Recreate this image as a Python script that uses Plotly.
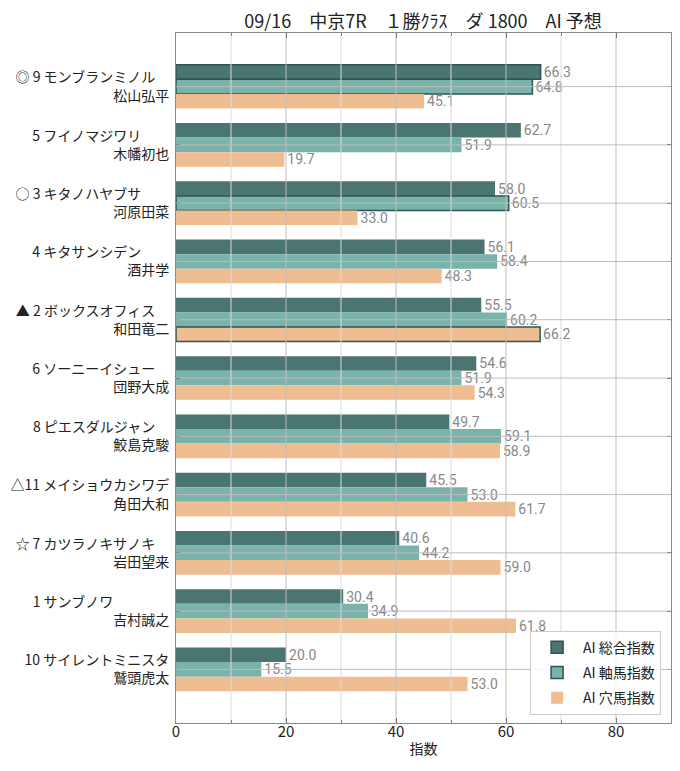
import plotly.graph_objects as go

marks = ["◎ 9", "5", "○ 3", "4", "▲ 2", "6", "8", "△11", "☆ 7", "1", "10"]
names = ["モンブランミノル", "フイノマジワリ", "キタノハヤブサ", "キタサンシデン", "ボックスオフィス",
         "ソーニーイシュー", "ピエスダルジャン", "メイショウカシワデ", "カツラノキサノキ", "サンブノワ",
         "サイレントミニスタ"]
jockeys = ["松山弘平", "木幡初也", "河原田菜", "酒井学", "和田竜二", "団野大成", "鮫島克駿",
           "角田大和", "岩田望来", "吉村誠之", "鷲頭虎太"]
total_idx = [66.3, 62.7, 58.0, 56.1, 55.5, 54.6, 49.7, 45.5, 40.6, 30.4, 20.0]
axis_idx = [64.8, 51.9, 60.5, 58.4, 60.2, 51.9, 59.1, 53.0, 44.2, 34.9, 15.5]
ana_idx = [45.1, 19.7, 33.0, 48.3, 66.2, 54.3, 58.9, 61.7, 59.0, 61.8, 53.0]
# bars drawn with a dark outline
total_hl = [True] + [False] * 10
axis_hl = [True, False, True] + [False] * 8
ana_hl = [False] * 4 + [True] + [False] * 6

series = [("AI 総合指数", total_idx, total_hl, "#4b7570"),
          ("AI 軸馬指数", axis_idx, axis_hl, "#7ab3ab"),
          ("AI 穴馬指数", ana_idx, ana_hl, "#eebd92")]

pos = list(range(len(names)))


def pad(n):
    # invisible full-width filler so horse names sit in a 9-character column
    k = 9 - len(n)
    if k <= 0:
        return ""
    return '<span style="color:rgba(0,0,0,0)">' + "口" * k + "</span>"


labels = [f"{m} {n}{pad(n)}<br>{j}" for m, n, j in zip(marks, names, jockeys)]
FONT = "Noto Sans CJK JP"

fig = go.Figure()
for i, (name, vals, hl, col) in enumerate(series):
    fig.add_trace(go.Bar(
        y=pos, x=vals, name=name, orientation="h", legendgroup=f"g{i}",
        marker=dict(color=col,
                    line=dict(color=["#2f5550" if h else col for h in hl],
                              width=[1.5 if h else 0 for h in hl])),
        text=[f"{v:.1f}" for v in vals], textposition="outside",
        textfont=dict(color="#888888", size=14, family="Roboto"),
        constraintext="none", cliponaxis=False,
    ))

shapes = []
for v in [10, 30, 50, 70]:
    shapes.append(dict(type="line", xref="x", yref="paper", x0=v, x1=v, y0=0, y1=1,
                       line=dict(color="#dcdcdc", width=1), layer="above"))
for v in [20, 40, 60, 80]:
    shapes.append(dict(type="line", xref="x", yref="paper", x0=v, x1=v, y0=0, y1=1,
                       line=dict(color="#bdbdbd", width=1), layer="above"))
for p in pos:
    shapes.append(dict(type="line", xref="paper", yref="y", x0=0, x1=1, y0=p, y1=p,
                       line=dict(color="#bdbdbd", width=1), layer="above"))

fig.update_layout(
    width=672, height=763,
    margin=dict(l=168, r=9, t=25, b=48, autoexpand=False),
    plot_bgcolor="white", paper_bgcolor="white",
    font=dict(family=FONT, color="#222222", size=14),
    title=dict(text="09/16　中京7R　１勝ｸﾗｽ　ダ 1800　AI 予想", x=0.6176, xanchor="center",
               y=0.982, yanchor="middle", automargin=False,
               font=dict(size=18, family=FONT, color="#222222")),
    barmode="group", bargap=0.25, bargroupgap=0,
    showlegend=True,
    legend=dict(x=0.98, xanchor="right", y=0.012, yanchor="bottom",
                bgcolor="rgba(255,255,255,0.85)", bordercolor="#cccccc", borderwidth=1,
                font=dict(size=14, family=FONT), traceorder="grouped", tracegroupgap=4,
                itemwidth=42),
    shapes=shapes,
)
fig.update_xaxes(range=[0, 90], tickvals=[0, 20, 40, 60, 80], ticks="inside", ticklen=5,
                 tickcolor="#333333", showgrid=False, zeroline=False, automargin=False,
                 showline=True, linecolor="#888888", linewidth=1, mirror="ticks",
                 minor=dict(tickvals=[10, 30, 50, 70], ticks="inside", ticklen=3, tickcolor="#333333",
                            showgrid=False),
                 ticklabelstandoff=-5,
                 tickfont=dict(size=15, family=FONT),
                 title=dict(text="指数", font=dict(size=14, family=FONT), standoff=4))
fig.update_yaxes(range=[10.92, -0.92], tickvals=pos, ticktext=labels, ticks="inside", ticklen=4,
                 tickcolor="#333333", showgrid=False, zeroline=False, automargin=False,
                 showline=True, linecolor="#888888", linewidth=1, mirror="ticks",
                 ticklabelstandoff=3,
                 tickfont=dict(size=14, family=FONT))

fig.write_html("out.html")
